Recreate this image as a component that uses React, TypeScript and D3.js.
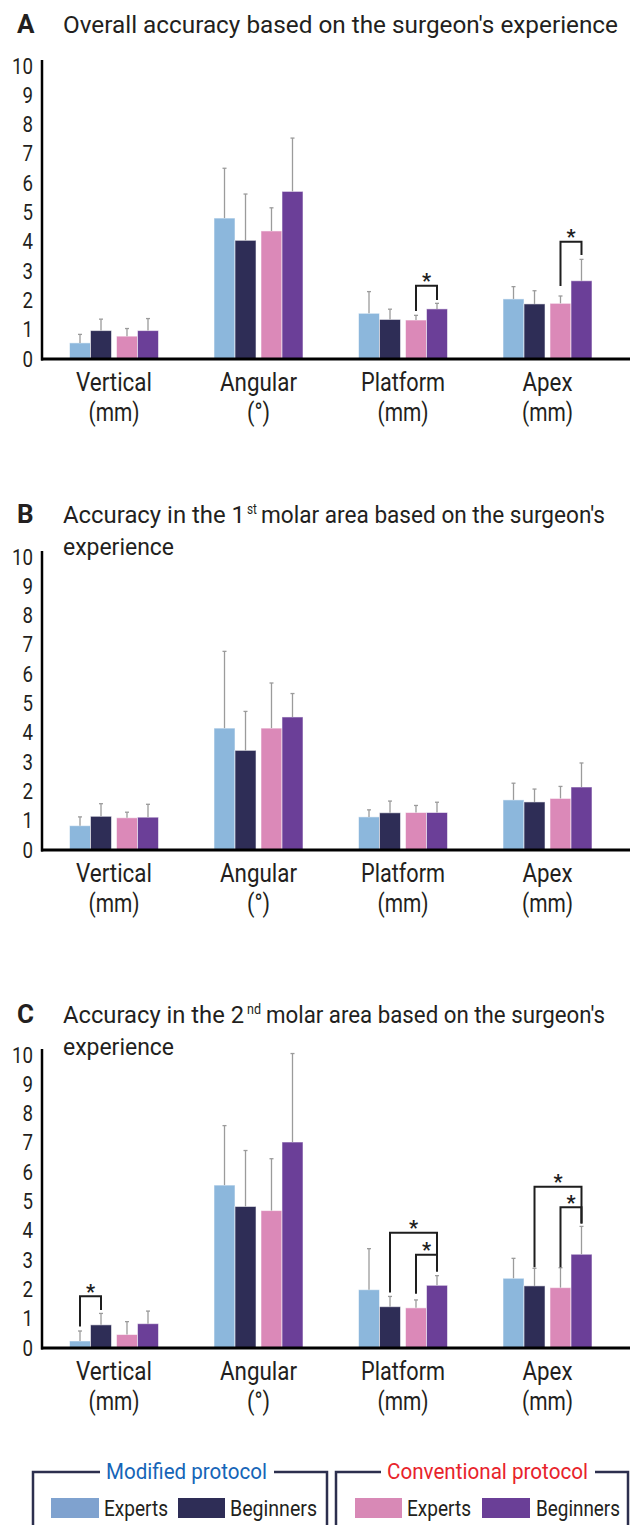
import React from "react";
import * as d3 from "d3";

// ---------- data ----------
const categories = ["Vertical", "Angular", "Platform", "Apex"];
const unitLabels = ["(mm)", "(°)", "(mm)", "(mm)"];
const protocols = ["Modified protocol", "Conventional protocol"];
const experience = ["Experts", "Beginners"];
const yTicks = [0, 1, 2, 3, 4, 5, 6, 7, 8, 9, 10];

// Panel A – overall
const aModExpMean = [0.55, 4.81, 1.56, 2.05];
const aModExpSD = [0.29, 1.7, 0.74, 0.42];
const aModBegMean = [0.97, 4.05, 1.35, 1.88];
const aModBegSD = [0.39, 1.58, 0.35, 0.45];
const aConExpMean = [0.78, 4.37, 1.33, 1.9];
const aConExpSD = [0.26, 0.79, 0.16, 0.25];
const aConBegMean = [0.97, 5.72, 1.71, 2.67];
const aConBegSD = [0.41, 1.82, 0.19, 0.73];

// Panel B – 1st molar
const bModExpMean = [0.83, 4.16, 1.13, 1.71];
const bModExpSD = [0.3, 2.62, 0.24, 0.57];
const bModBegMean = [1.15, 3.4, 1.27, 1.64];
const bModBegSD = [0.43, 1.33, 0.4, 0.44];
const bConExpMean = [1.1, 4.16, 1.28, 1.76];
const bConExpSD = [0.19, 1.54, 0.24, 0.41];
const bConBegMean = [1.12, 4.54, 1.28, 2.15];
const bConBegSD = [0.44, 0.8, 0.35, 0.82];

// Panel C – 2nd molar
const cModExpMean = [0.24, 5.56, 1.99, 2.38];
const cModExpSD = [0.34, 2.03, 1.4, 0.68];
const cModBegMean = [0.79, 4.83, 1.41, 2.12];
const cModBegSD = [0.39, 1.91, 0.35, 0.6];
const cConExpMean = [0.46, 4.69, 1.37, 2.06];
const cConExpSD = [0.44, 1.77, 0.27, 0.68];
const cConBegMean = [0.83, 7.03, 2.14, 3.2];
const cConBegSD = [0.43, 3.02, 0.33, 0.95];

// significance brackets: category, from-series, to-series, top value, left leg end, right leg end
const aBrackets = [
  { cat: "Platform", from: 2, to: 3, top: 2.5, left: 1.64, right: 2.01 },
  { cat: "Apex", from: 2, to: 3, top: 4.0, left: 2.49, right: 3.55 },
];
const bBrackets: any[] = [];
const cBrackets = [
  { cat: "Vertical", from: 0, to: 1, top: 1.77, left: 0.73, right: 1.3 },
  { cat: "Platform", from: 1, to: 3, top: 3.93, left: 1.89, right: 2.61 },
  { cat: "Platform", from: 2, to: 3, top: 3.18, left: 1.85, right: 2.61 },
  { cat: "Apex", from: 1, to: 3, top: 5.5, left: 2.76, right: 4.25 },
  { cat: "Apex", from: 2, to: 3, top: 4.8, left: 2.76, right: 4.25 },
];

// ---------- styles ----------
const barColors = ["#8cb7dc", "#2e2d56", "#db89b8", "#6b3f98"];
const legendColors = ["#7fa2cf", "#2e2d56", "#d889b6", "#6a3f97"];
const textColor = "#231f20";
const FONT = "Roboto, 'Liberation Sans', sans-serif";

const panels = [
  {
    letter: "A",
    lines: [[{ t: "Overall accuracy based on the surgeon's experience", x0: 63, x1: 618 }]],
    titleY: 33,
    base: 359,
    means: [aModExpMean, aModBegMean, aConExpMean, aConBegMean],
    sds: [aModExpSD, aModBegSD, aConExpSD, aConBegSD],
    brackets: aBrackets,
  },
  {
    letter: "B",
    lines: [
      [
        { t: "Accuracy in the 1", x0: 63, x1: 245 },
        { t: "st", x0: 247, x1: 257, sup: true },
        { t: "molar area based on the surgeon's", x0: 261, x1: 605 },
      ],
      [{ t: "experience", x0: 63, x1: 174 }],
    ],
    titleY: 523,
    base: 850,
    means: [bModExpMean, bModBegMean, bConExpMean, bConBegMean],
    sds: [bModExpSD, bModBegSD, bConExpSD, bConBegSD],
    brackets: bBrackets,
  },
  {
    letter: "C",
    lines: [
      [
        { t: "Accuracy in the 2", x0: 63, x1: 244 },
        { t: "nd", x0: 247, x1: 261, sup: true },
        { t: "molar area based on the surgeon's", x0: 266, x1: 605 },
      ],
      [{ t: "experience", x0: 63, x1: 174 }],
    ],
    titleY: 1023,
    base: 1348,
    means: [cModExpMean, cModBegMean, cConExpMean, cConBegMean],
    sds: [cModExpSD, cModBegSD, cConExpSD, cConBegSD],
    brackets: cBrackets,
  },
];

const catLabelWidths = [76, 77, 84, 50];
const unitLabelWidths = [51, 23, 51, 51];

function Panel({ p }: { p: any }) {
  const y = d3.scaleLinear().domain([0, 10]).range([p.base, p.base - 293]);
  const x0 = d3.scaleBand().domain(categories).range([41.75, 619.75]);
  const groupW = 89;
  const xp = d3.scaleBand().domain(protocols).range([0, groupW]).paddingInner(0.106);
  const xg = d3.scaleBand().domain(experience).range([0, xp.bandwidth()]);
  const bw = xg.bandwidth();
  const barX = (ci: number, si: number) =>
    (x0(categories[ci]) as number) +
    (x0.bandwidth() - groupW) / 2 +
    (xp(protocols[si >> 1]) as number) +
    (xg(experience[si & 1]) as number);
  const center = (ci: number, si: number) => barX(ci, si) + bw / 2;
  const axisX = 42;

  return (
    <g>
      {/* panel letter & title */}
      <text x={17} y={p.titleY} fontFamily={FONT} fontWeight="bold" fontSize={26} fill={textColor}>
        {p.letter}
      </text>
      {p.lines.map((ln: any[], i: number) =>
        ln.map((piece: any, k: number) => (
          <text
            key={`${i}-${k}`}
            x={piece.x0}
            y={p.titleY + i * 32 - (piece.sup ? 9 : 0)}
            fontFamily={FONT}
            fontSize={piece.sup ? 15 : 24}
            fill={textColor}
            textLength={piece.x1 - piece.x0}
            lengthAdjust="spacingAndGlyphs"
          >
            {piece.t}
          </text>
        ))
      )}

      {/* bars */}
      {p.means.map((arr: number[], si: number) =>
        arr.map((v: number, ci: number) => (
          <rect
            key={`b${si}-${ci}`}
            x={barX(ci, si)}
            y={y(v)}
            width={bw}
            height={y(0) - y(v)}
            fill={barColors[si]}
            stroke="rgba(255,255,255,0.55)"
            strokeWidth={1}
          />
        ))
      )}

      {/* error bars */}
      {p.means.map((arr: number[], si: number) =>
        arr.map((v: number, ci: number) => {
          const cx = center(ci, si);
          const top = y(v + p.sds[si][ci]);
          return (
            <g key={`e${si}-${ci}`} stroke="#9b9b9b" strokeWidth={1.3}>
              <line x1={cx} x2={cx} y1={y(v)} y2={top} />
              <line x1={cx - 2} x2={cx + 2} y1={top} y2={top} />
            </g>
          );
        })
      )}

      {/* significance brackets */}
      {p.brackets.map((b: any, i: number) => {
        const ci = categories.indexOf(b.cat);
        const xl = center(ci, b.from);
        const xr = center(ci, b.to);
        return (
          <g key={`s${i}`}>
            <path
              d={`M${xl},${y(b.left)}V${y(b.top)}H${xr}V${y(b.right)}`}
              fill="none"
              stroke="#1e1e1e"
              strokeWidth={2}
            />
            <text
              x={(xl + xr) / 2}
              y={y(b.top) + 2.5}
              textAnchor="middle"
              fontFamily={FONT}
              fontWeight="bold"
              fontSize={20}
              fill="#1e1e1e"
            >
              *
            </text>
          </g>
        );
      })}

      {/* axes */}
      <line x1={axisX} x2={axisX} y1={y(10) - 6} y2={y(0) + 1.5} stroke="#000" strokeWidth={2.5} />
      <line x1={axisX - 1} x2={630} y1={y(0)} y2={y(0)} stroke="#000" strokeWidth={3} />
      {yTicks.map((t) => (
        <text
          key={`t${t}`}
          x={33}
          y={y(t)}
          textAnchor="end"
          dominantBaseline="central"
          fontFamily={FONT}
          fontSize={22}
          fill={textColor}
          textLength={String(t).length * 10.5}
          lengthAdjust="spacingAndGlyphs"
        >
          {t}
        </text>
      ))}

      {/* category labels */}
      {categories.map((c, ci) => {
        const cx = (x0(c) as number) + x0.bandwidth() / 2;
        return (
          <g key={`c${c}`}>
            <text
              x={cx}
              y={y(0) + 32}
              textAnchor="middle"
              fontFamily={FONT}
              fontSize={25.5}
              fill={textColor}
              textLength={catLabelWidths[ci]}
              lengthAdjust="spacingAndGlyphs"
            >
              {c}
            </text>
            <text
              x={cx}
              y={y(0) + 62}
              textAnchor="middle"
              fontFamily={FONT}
              fontSize={25.5}
              fill={textColor}
              textLength={unitLabelWidths[ci]}
              lengthAdjust="spacingAndGlyphs"
            >
              {unitLabels[ci]}
            </text>
          </g>
        );
      })}
    </g>
  );
}

function Legend() {
  const boxes = [
    {
      left: 33, right: 327, title: protocols[0], color: "#1565b8",
      tx: [106, 267], sw: [[51, 99], [178, 225]], lx: [[104, 168], [230, 317]], ci: [0, 1],
    },
    {
      left: 336, right: 628, title: protocols[1], color: "#e8232b",
      tx: [387, 588], sw: [[355, 402], [482, 530]], lx: [[407, 471], [536, 620]], ci: [2, 3],
    },
  ];
  const topY = 1472;
  const stroke = "#2c2f4e";
  return (
    <g>
      {boxes.map((b, i) => (
        <g key={i}>
          <path
            d={`M${b.left},1530V${topY}H${b.tx[0] - 6}M${b.tx[1] + 7},${topY}H${b.right}V1530`}
            fill="none"
            stroke={stroke}
            strokeWidth={2.5}
          />
          <text
            x={b.tx[0]}
            y={1479}
            fontFamily={FONT}
            fontSize={22}
            fill={b.color}
            textLength={b.tx[1] - b.tx[0]}
            lengthAdjust="spacingAndGlyphs"
          >
            {b.title}
          </text>
          {experience.map((e, k) => (
            <g key={e}>
              <rect
                x={b.sw[k][0]}
                y={1498}
                width={b.sw[k][1] - b.sw[k][0]}
                height={20}
                fill={legendColors[b.ci[k]]}
              />
              <text
                x={b.lx[k][0]}
                y={1516}
                fontFamily={FONT}
                fontSize={22}
                fill={textColor}
                textLength={b.lx[k][1] - b.lx[k][0]}
                lengthAdjust="spacingAndGlyphs"
              >
                {e}
              </text>
            </g>
          ))}
        </g>
      ))}
    </g>
  );
}

export default function App() {
  return (
    <svg
      width={635}
      height={1525}
      viewBox="0 0 635 1525"
      style={{ position: "absolute", left: 0, top: 0, display: "block", background: "#fff" }}
    >
      <rect x={0} y={0} width={635} height={1525} fill="#fff" />
      {panels.map((p) => (
        <Panel key={p.letter} p={p} />
      ))}
      <Legend />
    </svg>
  );
}
